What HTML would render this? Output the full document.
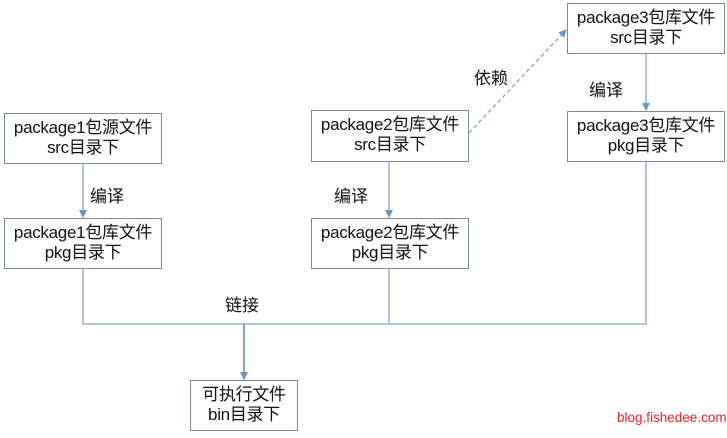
<!DOCTYPE html>
<html><head><meta charset="utf-8"><style>
body{margin:0;width:727px;height:438px;background:#fff;position:relative;overflow:hidden;font-family:"Liberation Sans","Noto Sans CJK SC",sans-serif;}
.b{position:absolute;box-sizing:border-box;border:1px solid #7a8a99;background:#fff;text-align:center;font-size:17px;line-height:20px;color:#111;padding-top:4px;letter-spacing:-0.3px;}
.t{position:absolute;font-size:17px;color:#111;}
svg{position:absolute;left:0;top:0;}
</style></head><body>
<svg width="727" height="438">
<defs><marker id="a" markerWidth="8" markerHeight="8" refX="7" refY="4" orient="auto" markerUnits="userSpaceOnUse"><path d="M0,0 L8,4 L0,8z" fill="#6b93c4"/></marker></defs>
<g stroke="#7fa3cc" stroke-width="1.3" fill="none">
<line x1="83" y1="163" x2="83" y2="217" marker-end="url(#a)"/>
<line x1="389" y1="161" x2="389" y2="217" marker-end="url(#a)"/>
<line x1="646" y1="53" x2="646" y2="110" marker-end="url(#a)"/>
<line x1="469" y1="133" x2="566" y2="30" stroke-dasharray="4,3" marker-end="url(#a)"/>
<polyline points="83,268 83,324 646,324 646,161"/>
<line x1="389" y1="268" x2="389" y2="324"/>
<line x1="244" y1="324" x2="244" y2="379" stroke-width="2" marker-end="url(#a)"/>
</g>
</svg>
<div class="b" style="left:4px;top:113px;width:158px;height:51px">package1包源文件<br>src目录下</div>
<div class="b" style="left:4px;top:218px;width:158px;height:51px">package1包库文件<br>pkg目录下</div>
<div class="b" style="left:311px;top:110px;width:158px;height:52px">package2包库文件<br>src目录下</div>
<div class="b" style="left:311px;top:218px;width:158px;height:51px">package2包库文件<br>pkg目录下</div>
<div class="b" style="left:567px;top:3px;width:158px;height:51px">package3包库文件<br>src目录下</div>
<div class="b" style="left:567px;top:111px;width:158px;height:51px">package3包库文件<br>pkg目录下</div>
<div class="b" style="left:190px;top:380px;width:108px;height:51px">可执行文件<br>bin目录下</div>
<div class="t" style="left:90px;top:182px">编译</div>
<div class="t" style="left:334px;top:182px">编译</div>
<div class="t" style="left:589px;top:76px">编译</div>
<div class="t" style="left:474px;top:64px">依赖</div>
<div class="t" style="left:225px;top:291px">链接</div>
<div style="position:absolute;left:617px;top:410px;font-size:13.5px;color:#e8231f">blog.fishedee.com</div>
</body></html>
